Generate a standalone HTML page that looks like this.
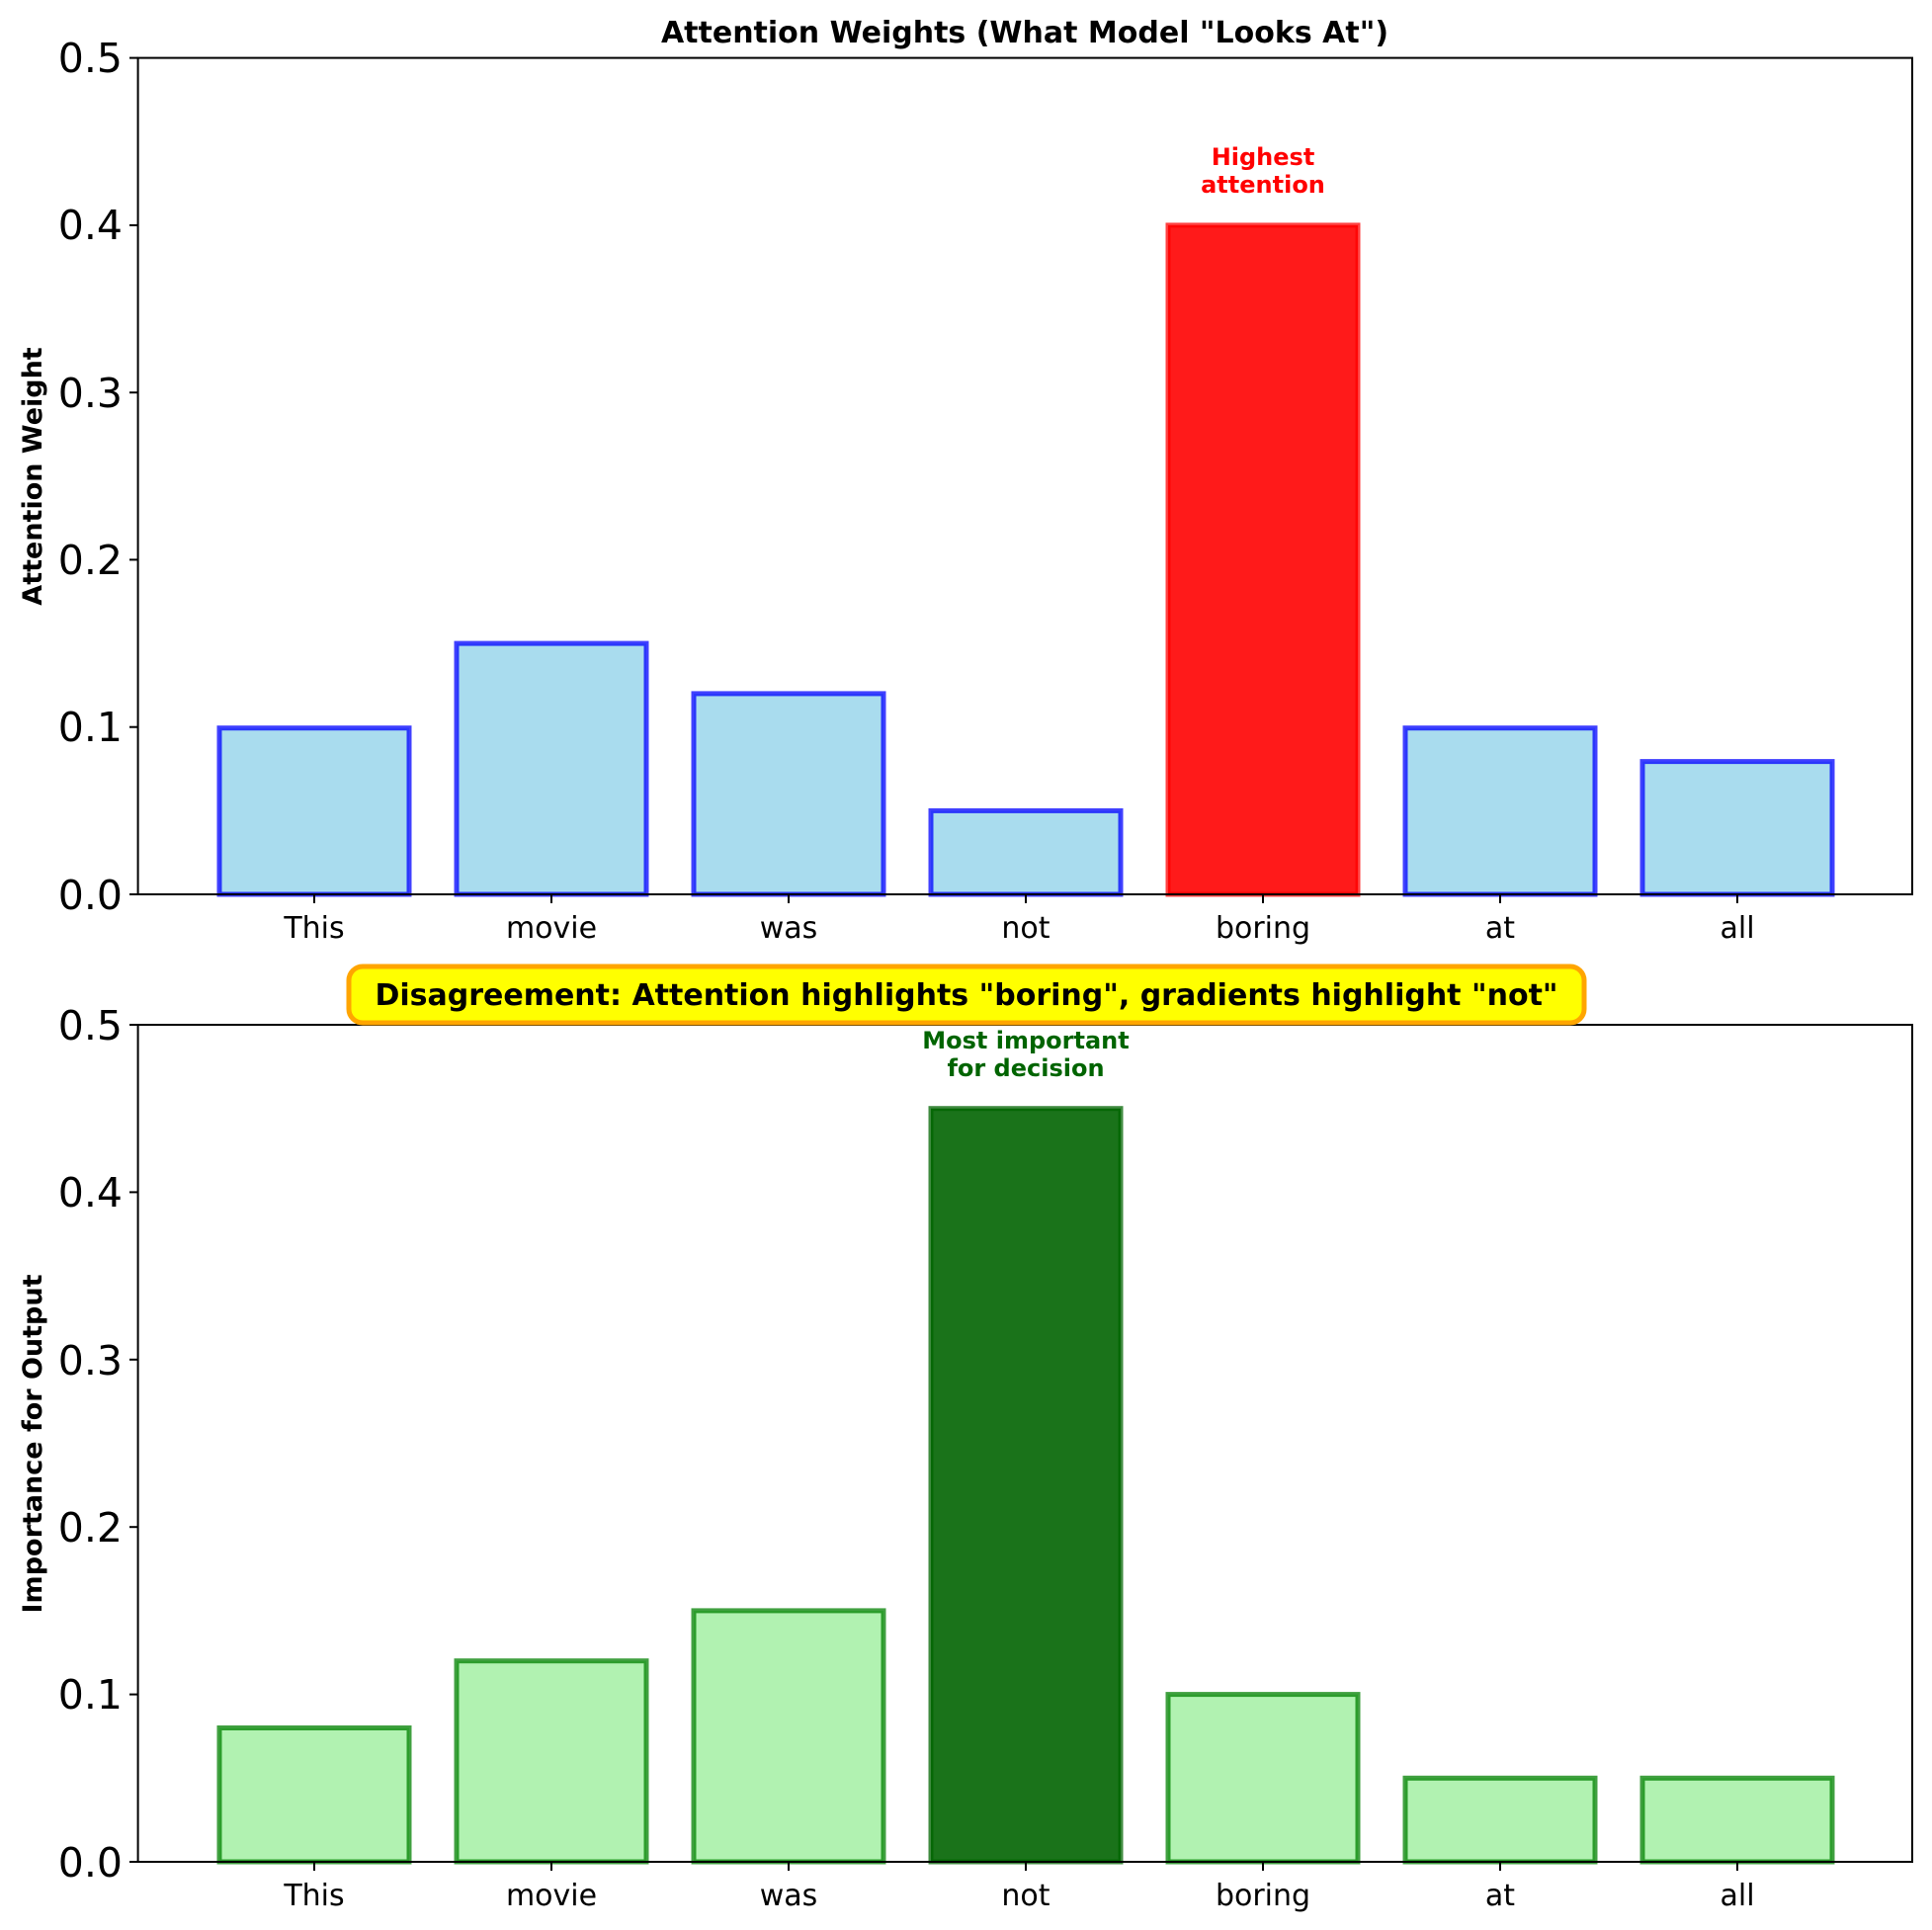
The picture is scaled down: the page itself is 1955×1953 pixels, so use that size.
<!DOCTYPE html>
<html><head><meta charset="utf-8"><style>body{margin:0;background:#fff}svg{display:block}text{font-family:"DejaVu Sans","Liberation Sans",sans-serif}</style></head>
<body>
<svg width="1955" height="1953" viewBox="0 0 1955 1953" xmlns="http://www.w3.org/2000/svg">
<rect width="1955" height="1953" fill="#fff"/>
<!-- Top chart -->
<text x="1037" y="43" font-size="30" font-weight="bold" text-anchor="middle">Attention Weights (What Model "Looks At")</text>
<text transform="translate(42,482) rotate(-90)" font-size="27" font-weight="bold" text-anchor="middle">Attention Weight</text>
<g stroke-width="5" stroke-opacity="0.75">
<rect x="222" y="736.7" width="192" height="168.3" fill="#a9dcee" stroke="#0000ff"/>
<rect x="462" y="651.1" width="192" height="253.9" fill="#a9dcee" stroke="#0000ff"/>
<rect x="702" y="701.9" width="192" height="203.1" fill="#a9dcee" stroke="#0000ff"/>
<rect x="942" y="820.4" width="192" height="84.6" fill="#a9dcee" stroke="#0000ff"/>
<rect x="1182" y="227.9" width="192" height="677.1" fill="#ff1a1a" stroke="#ff0000"/>
<rect x="1422" y="736.7" width="192" height="168.3" fill="#a9dcee" stroke="#0000ff"/>
<rect x="1662" y="770.6" width="192" height="134.4" fill="#a9dcee" stroke="#0000ff"/>
</g>
<text x="1278" y="167" font-size="24" font-weight="bold" fill="#ff0000" text-anchor="middle">Highest</text>
<text x="1278" y="195" font-size="24" font-weight="bold" fill="#ff0000" text-anchor="middle">attention</text>
<rect x="139.6" y="58.6" width="1795.4" height="846.4" fill="none" stroke="#000" stroke-width="2"/>
<g stroke="#000" stroke-width="2">
<line x1="131" y1="58.6" x2="139.6" y2="58.6"/><line x1="131" y1="227.9" x2="139.6" y2="227.9"/><line x1="131" y1="397.2" x2="139.6" y2="397.2"/><line x1="131" y1="566.4" x2="139.6" y2="566.4"/><line x1="131" y1="735.7" x2="139.6" y2="735.7"/><line x1="131" y1="905" x2="139.6" y2="905"/>
<line x1="318" y1="905" x2="318" y2="914"/><line x1="558" y1="905" x2="558" y2="914"/><line x1="798" y1="905" x2="798" y2="914"/><line x1="1038" y1="905" x2="1038" y2="914"/><line x1="1278" y1="905" x2="1278" y2="914"/><line x1="1518" y1="905" x2="1518" y2="914"/><line x1="1758" y1="905" x2="1758" y2="914"/>
</g>
<g font-size="41" text-anchor="end">
<text x="124" y="73">0.5</text><text x="124" y="242">0.4</text><text x="124" y="412">0.3</text><text x="124" y="581">0.2</text><text x="124" y="750">0.1</text><text x="124" y="920">0.0</text>
</g>
<g font-size="30" text-anchor="middle">
<text x="318" y="949">This</text><text x="558" y="949">movie</text><text x="798" y="949">was</text><text x="1038" y="949">not</text><text x="1278" y="949">boring</text><text x="1518" y="949">at</text><text x="1758" y="949">all</text>
</g>
<!-- Bottom chart -->
<text transform="translate(42,1461) rotate(-90)" font-size="27" font-weight="bold" text-anchor="middle">Importance for Output</text>
<g stroke-width="5" stroke-opacity="0.75">
<rect x="222" y="1748.5" width="192" height="135.5" fill="#b1f2b1" stroke="#008000"/>
<rect x="462" y="1680.7" width="192" height="203.3" fill="#b1f2b1" stroke="#008000"/>
<rect x="702" y="1629.9" width="192" height="254.1" fill="#b1f2b1" stroke="#008000"/>
<rect x="942" y="1121.7" width="192" height="762.3" fill="#1a731a" stroke="#006400"/>
<rect x="1182" y="1714.6" width="192" height="169.4" fill="#b1f2b1" stroke="#008000"/>
<rect x="1422" y="1799.3" width="192" height="84.7" fill="#b1f2b1" stroke="#008000"/>
<rect x="1662" y="1799.3" width="192" height="84.7" fill="#b1f2b1" stroke="#008000"/>
</g>
<text x="1038" y="1061" font-size="24" font-weight="bold" fill="#006400" text-anchor="middle">Most important</text>
<text x="1038" y="1089" font-size="24" font-weight="bold" fill="#006400" text-anchor="middle">for decision</text>
<rect x="139.6" y="1037" width="1795.4" height="847" fill="none" stroke="#000" stroke-width="2"/>
<g stroke="#000" stroke-width="2">
<line x1="131" y1="1037" x2="139.6" y2="1037"/><line x1="131" y1="1206.4" x2="139.6" y2="1206.4"/><line x1="131" y1="1375.8" x2="139.6" y2="1375.8"/><line x1="131" y1="1545.2" x2="139.6" y2="1545.2"/><line x1="131" y1="1714.6" x2="139.6" y2="1714.6"/><line x1="131" y1="1884" x2="139.6" y2="1884"/>
<line x1="318" y1="1884" x2="318" y2="1893"/><line x1="558" y1="1884" x2="558" y2="1893"/><line x1="798" y1="1884" x2="798" y2="1893"/><line x1="1038" y1="1884" x2="1038" y2="1893"/><line x1="1278" y1="1884" x2="1278" y2="1893"/><line x1="1518" y1="1884" x2="1518" y2="1893"/><line x1="1758" y1="1884" x2="1758" y2="1893"/>
</g>
<g font-size="41" text-anchor="end">
<text x="124" y="1052">0.5</text><text x="124" y="1221">0.4</text><text x="124" y="1391">0.3</text><text x="124" y="1560">0.2</text><text x="124" y="1729">0.1</text><text x="124" y="1899">0.0</text>
</g>
<g font-size="30" text-anchor="middle">
<text x="318" y="1928">This</text><text x="558" y="1928">movie</text><text x="798" y="1928">was</text><text x="1038" y="1928">not</text><text x="1278" y="1928">boring</text><text x="1518" y="1928">at</text><text x="1758" y="1928">all</text>
</g>
<!-- Disagreement box -->
<rect x="353" y="978" width="1250" height="57" rx="14" fill="#ffff00" stroke="#ffa500" stroke-width="5"/>
<text x="978" y="1017" font-size="30" font-weight="bold" text-anchor="middle">Disagreement: Attention highlights "boring", gradients highlight "not"</text>
</svg>
</body></html>
